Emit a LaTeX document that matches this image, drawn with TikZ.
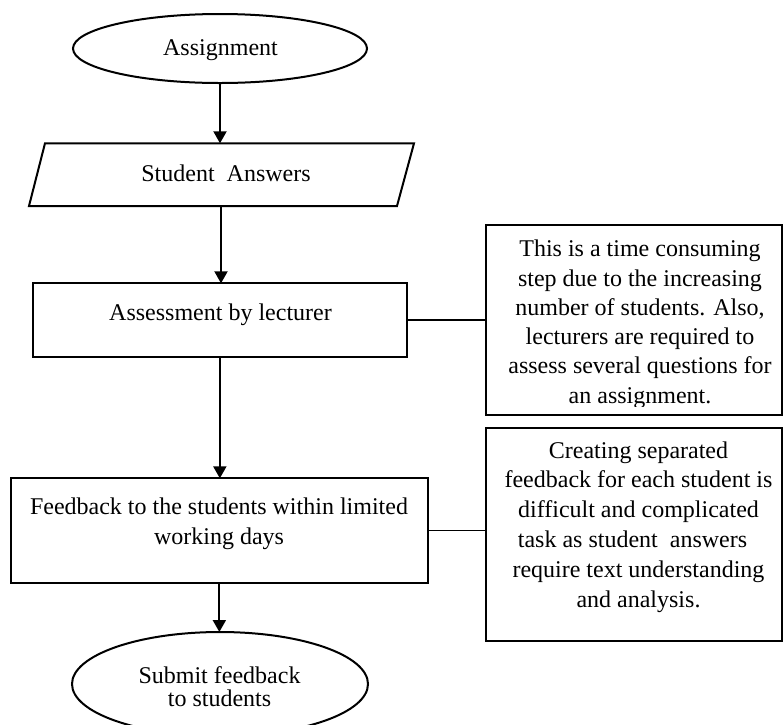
\documentclass[tikz,border=0pt]{standalone}
\usepackage{fontspec}
\setmainfont{Liberation Serif}
\usetikzlibrary{arrows.meta,shapes.geometric}
\newcommand{\mylines}[1]{\vtop{\halign{\hfil##\hfil\cr#1\crcr}}}
\begin{document}
\begin{tikzpicture}[x=1pt,y=-1pt,
  every node/.style={inner sep=0pt, outer sep=0pt},
  txt/.style={anchor=base, font=\fontsize{24}{29.5}\selectfont},
  shapeline/.style={draw=black, line width=2pt},
  flow/.style={line width=2pt, -{Triangle[width=13pt,length=12pt]}},
  link/.style={line width=1.2pt}]
\clip (0,0) rectangle (783,724);
\fill[white] (0,0) rectangle (783,724);

% Start ellipse
\node[ellipse, shapeline, minimum width=294pt, minimum height=69pt] (assign) at (220,48.5) {};
\node[txt] (assignt) at (220.5,55) {Assignment};

% Parallelogram (input)
\node[minimum width=369pt, minimum height=62.7pt] (sa) at (221,174.65) {};
\draw[shapeline] (45,143.3) -- (414,143.3) -- (397,206) -- (29,206) -- cycle;
\node[txt] (sat) at (226,181.7) {Student\ \ Answers};

% Assessment box
\node[shapeline, minimum width=374.3pt, minimum height=73.4pt] (assess) at (219.85,320) {};
\node[txt] (assesst) at (220.5,320) {Assessment by lecturer};

% Feedback box
\node[shapeline, minimum width=416.7pt, minimum height=105pt] (fb) at (219.35,530.8) {};
\node[txt, font=\fontsize{24}{30}\selectfont] (fbt) at (219,514) {\mylines{Feedback to the students within limited\cr working days}};

% End ellipse
\node[ellipse, shapeline, minimum width=296pt, minimum height=104pt] (sub) at (220,684) {};
\node[txt, font=\fontsize{24}{23}\selectfont] (subt) at (219.5,683.3) {\mylines{Submit feedback\cr to students}};

% Note 1
\node[shapeline, minimum width=296pt, minimum height=190pt] (n1) at (634,320) {};
\begin{scope}
\clip (480,225) rectangle (783,406.5);
\node[txt, font=\fontsize{24}{29.3}\selectfont] (n1t) at (640,256.7) {\mylines{This is a time consuming\cr step due to the increasing\cr number of students. Also,\cr lecturers are required to\cr assess several questions for\cr an assignment.}};
\end{scope}

% Note 2
\node[shapeline, minimum width=296pt, minimum height=213pt] (n2) at (634,534.2) {};
\node[txt, font=\fontsize{24}{29.8}\selectfont] (n2t) at (638.5,458) {\mylines{Creating separated\cr feedback for each student is\cr difficult and complicated\cr task as student\ \ answers\ \ \cr require text understanding\cr and analysis.}};

% Flow arrows
\draw[flow] (assign.south) -- (assign.south |- sa.north);
\draw[flow] (sa.south) -- (sa.south |- assess.north);
\draw[flow] (assess.south) -- (assess.south |- fb.north);
\draw[flow] (fb.south) -- (fb.south |- sub.north);

% Links to notes
\draw[link] (assess.east) -- (assess.east -| n1.west);
\draw[link] (fb.east) -- (fb.east -| n2.west);
\end{tikzpicture}
\end{document}
